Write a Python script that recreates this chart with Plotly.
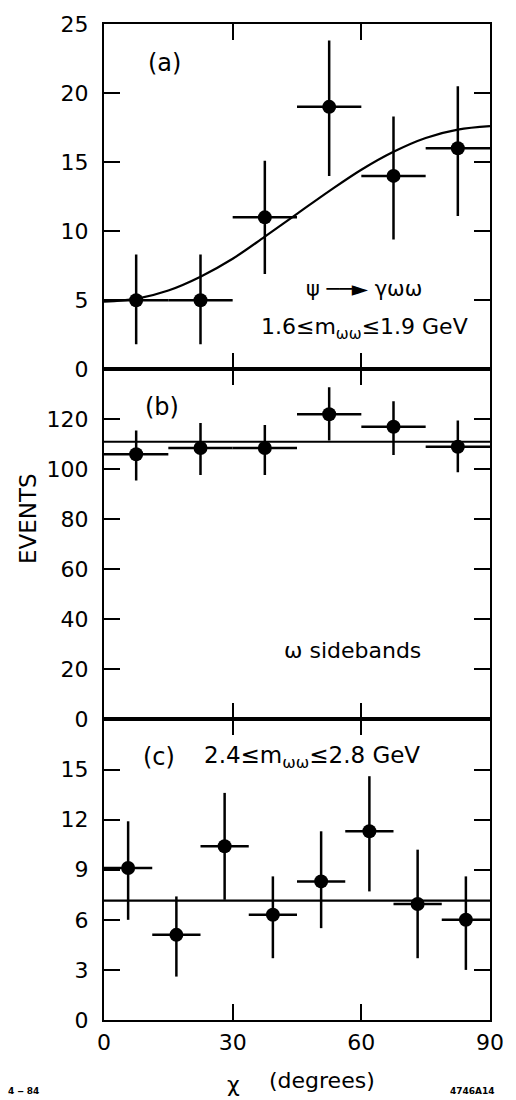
import plotly.graph_objects as go
from plotly.subplots import make_subplots

# ---- data: (a) psi -> gamma omega omega, 1.6 <= m <= 1.9 GeV ----
a_chi = [7.5, 22.5, 37.5, 52.5, 67.5, 82.5]
a_half = [7.5, 7.5, 7.5, 7.5, 7.5, 7.5]
a_events = [5, 5, 11, 19, 14, 16]
a_top = [8.3, 8.3, 15.1, 23.8, 18.3, 20.5]
a_bottom = [1.8, 1.8, 6.9, 14.0, 9.4, 11.1]
a_fit_chi = [0, 7.5, 15, 22.5, 30, 37.5, 45, 52.5, 60, 67.5, 75, 82.5, 90]
a_fit_events = [4.9, 5.1, 5.7, 6.7, 8.0, 9.6, 11.25, 12.9, 14.45, 15.75, 16.75, 17.35, 17.6]

# ---- data: (b) omega sidebands ----
b_chi = [7.5, 22.5, 37.5, 52.5, 67.5, 82.5]
b_half = [7.5, 7.5, 7.5, 7.5, 7.5, 7.5]
b_events = [106, 108.5, 108.5, 122, 117, 109]
b_top = [115.5, 118.5, 117.7, 132.8, 127.2, 119.5]
b_bottom = [95.5, 97.7, 97.7, 111.5, 105.7, 98.8]
b_fit_chi = [0, 90]
b_fit_events = [111, 111]

# ---- data: (c) 2.4 <= m <= 2.8 GeV ----
c_chi = [5.625, 16.875, 28.125, 39.375, 50.625, 61.875, 73.125, 84.375]
c_half = [5.625] * 8
c_events = [9.1, 5.1, 10.4, 6.3, 8.3, 11.3, 6.95, 6.0]
c_top = [11.9, 7.4, 13.6, 8.6, 11.3, 14.6, 10.2, 8.6]
c_bottom = [6.0, 2.6, 7.2, 3.7, 5.5, 7.7, 3.7, 3.0]
c_fit_chi = [0, 90]
c_fit_events = [7.15, 7.15]

x_ticks = [0, 30, 60, 90]
a_ticks = [0, 5, 10, 15, 20, 25]
b_ticks = [0, 20, 40, 60, 80, 100, 120]
c_ticks = [0, 3, 6, 9, 12, 15]

FONT = "DejaVu Sans"
W, H = 516, 1100
L, R, T, B = 104, 500, 16, 1020

fig = make_subplots(rows=3, cols=1, shared_xaxes=True, vertical_spacing=0,
                    row_heights=[348, 353, 303])


def add_panel(row, chi, half, ev, top, bottom, fit_x, fit_y, spline):
    fig.add_trace(go.Scatter(
        x=fit_x, y=fit_y, mode="lines",
        line=dict(color="black", width=2.2, shape="spline" if spline else "linear"),
        hoverinfo="skip", showlegend=False), row=row, col=1)
    fig.add_trace(go.Scatter(
        x=chi, y=ev, mode="markers",
        marker=dict(color="black", size=14, symbol="circle"),
        error_x=dict(type="data", array=half, color="black", thickness=2.5, width=0),
        error_y=dict(type="data",
                     array=[t - e for t, e in zip(top, ev)],
                     arrayminus=[e - b for e, b in zip(ev, bottom)],
                     color="black", thickness=2.5, width=0),
        showlegend=False), row=row, col=1)


add_panel(1, a_chi, a_half, a_events, a_top, a_bottom, a_fit_chi, a_fit_events, True)
add_panel(2, b_chi, b_half, b_events, b_top, b_bottom, b_fit_chi, b_fit_events, False)
add_panel(3, c_chi, c_half, c_events, c_top, c_bottom, c_fit_chi, c_fit_events, False)

axis_common = dict(showgrid=False, zeroline=False, showline=True, linecolor="black",
                   linewidth=2, mirror="ticks", ticks="inside", ticklen=16,
                   tickwidth=2, tickcolor="black",
                   tickfont=dict(family=FONT, size=22, color="black"))

for r in (1, 2, 3):
    fig.update_xaxes(range=[0, 90], tickvals=x_ticks, ticklabelstandoff=2,
                     **axis_common, row=r, col=1)
fig.update_xaxes(showticklabels=False, row=1, col=1)
fig.update_xaxes(showticklabels=False, row=2, col=1)

fig.update_yaxes(range=[0, 25], tickvals=a_ticks, ticklabelstandoff=9, **axis_common, row=1, col=1)
fig.update_yaxes(range=[0, 140], tickvals=b_ticks, ticklabelstandoff=9, **axis_common, row=2, col=1)
fig.update_yaxes(range=[0, 18], tickvals=c_ticks, ticklabelstandoff=9, **axis_common, row=3, col=1)


def px(x, y):
    return (x - L) / (R - L), (B - y) / (B - T)


def label(text, x, y, size=20, angle=0, bold=False):
    xp, yp = px(x, y)
    if bold:
        text = "<b>" + text + "</b>"
    fig.add_annotation(text=text, x=xp, y=yp, xref="paper", yref="paper",
                       showarrow=False, textangle=angle,
                       font=dict(family=FONT, size=size, color="black"),
                       xanchor="center", yanchor="middle")


label("(a)", 166, 55, size=24)
label("ψ ──► γωω", 371, 283, size=21)
label("1.6≤m<sub>ωω</sub>≤1.9 GeV", 371, 323, size=22)
label("(b)", 163, 402, size=24)
label("ω sidebands", 359, 648, size=22)
label("(c)", 160, 755, size=24)
label("2.4≤m<sub>ωω</sub>≤2.8 GeV", 317, 755, size=23)
label("EVENTS", 26, 514, size=23, angle=-90)
label("χ", 237, 1085, size=22)
label("(degrees)", 328, 1081, size=22)
label("4 ‒ 84", 21, 1092, size=9, bold=True)
label("4746A14", 482, 1092, size=9, bold=True)

fig.update_layout(width=W, height=H, margin=dict(l=L, r=W - R, t=T, b=H - B),
                  plot_bgcolor="white", paper_bgcolor="white",
                  font=dict(family=FONT, color="black"))

fig.write_html("out.html")
